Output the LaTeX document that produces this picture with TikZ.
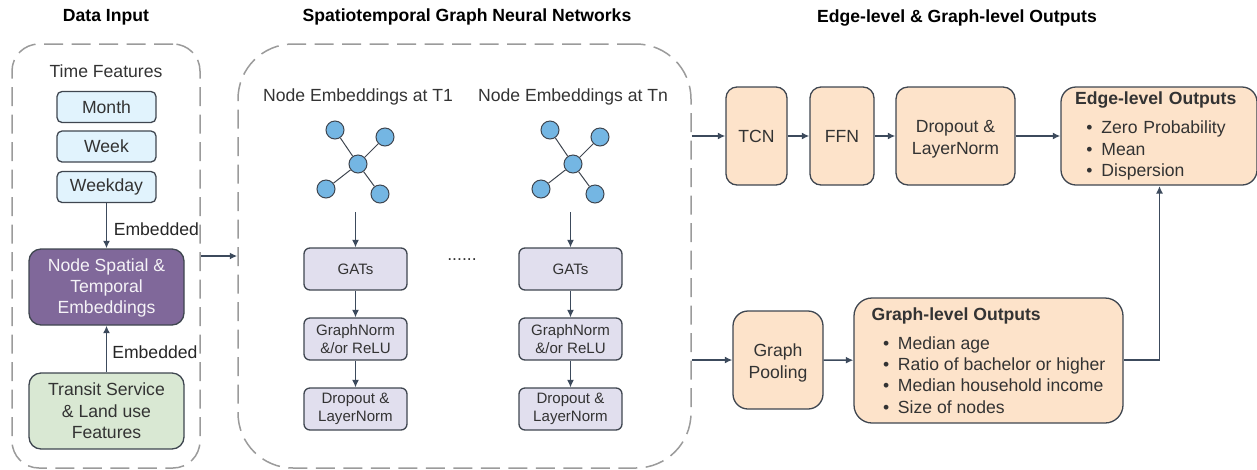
\documentclass[tikz,border=0pt]{standalone}
\usepackage{fontspec}
\setmainfont{Liberation Sans}
\usetikzlibrary{arrows.meta}
\definecolor{inkdark}{HTML}{333333}
\definecolor{edgedark}{HTML}{3F4650}
\definecolor{arrowdark}{HTML}{3C4A5C}
\definecolor{dashgray}{HTML}{9B9B9B}
\definecolor{timeblue}{HTML}{E1F3FD}
\definecolor{embedpurple}{HTML}{80689A}
\definecolor{transitgreen}{HTML}{D9E8D3}
\definecolor{gnnlilac}{HTML}{E1DFEE}
\definecolor{outpeach}{HTML}{FDE3CA}
\definecolor{dotblue}{HTML}{74B6E3}
\newcommand{\px}{0.75pt}
\newcommand{\bigtext}{\fontsize{13.2pt}{16.1pt}\selectfont}
\newcommand{\smalltext}{\fontsize{11.3pt}{13.8pt}\selectfont}
\newcommand{\bulitem}[1]{\hspace*{8.6pt}\makebox[11.2pt][l]{\textbullet}#1}

\begin{document}
\begin{tikzpicture}[x=0.75pt,y=-0.75pt,
    heading/.style={font=\bigtext\bfseries,text=black,inner sep=0pt},
    plain/.style={font=\bigtext,text=inkdark,inner sep=0pt,align=center},
    frame/.style={draw=dashgray,line width=1.5*\px,dash pattern=on 19*\px off 8.5*\px},
    box/.style={draw=edgedark,line width=1.3*\px,font=\bigtext,text=inkdark,align=center,inner sep=0pt},
    timebox/.style={box,fill=timeblue,minimum width=99*\px,minimum height=31*\px,rounded corners=5*\px},
    bigbox/.style={box,minimum width=155*\px,minimum height=76*\px,rounded corners=12*\px},
    gnnbox/.style={box,fill=gnnlilac,font=\smalltext,minimum width=103*\px,minimum height=42*\px,rounded corners=6*\px},
    outbox/.style={box,fill=outpeach,rounded corners=11*\px},
    lowertext/.style={text height=30pt},
    dot/.style={circle,draw=edgedark,line width=1*\px,fill=dotblue,minimum size=18*\px,inner sep=0pt},
    flow/.style={draw=arrowdark,line width=1.6*\px,-{Latex[length=7.5*\px,width=7*\px]}},
    thinflow/.style={draw=arrowdark,line width=1.3*\px,-{Latex[length=7.5*\px,width=7*\px]}}]
  \useasboundingbox (0,0) rectangle (1257,469);

  % Headings
  \node[heading] (headinput) at (106,17) {Data Input};
  \node[heading] (headgnn) at (467,17) {Spatiotemporal Graph Neural Networks};
  \node[heading] (headout) at (957,18) {Edge-level \& Graph-level Outputs};

  % Dashed frames
  \node[frame,rounded corners=27*\px,minimum width=188*\px,minimum height=424*\px] (inputframe) at (106,256) {};
  \node[frame,rounded corners=55*\px,minimum width=453*\px,minimum height=424*\px] (gnnframe) at (464.5,256) {};

  % Data input
  \node[plain] (timefeat) at (106,71) {Time Features};
  \node[timebox] (month) at (106.5,107) {Month};
  \node[timebox] (week) at (106.5,146.5) {Week};
  \node[timebox] (weekday) at (106.5,187) {Weekday};
  \node[bigbox,fill=embedpurple,text=white!92!embedpurple,text height=43.2pt] (embed) at (106.5,287) {Node Spatial \&\\Temporal\\Embeddings};
  \node[bigbox,fill=transitgreen] (transit) at (106.5,411) {Transit Service\\\& Land use\\Features};
  \draw[flow] (weekday) -- (embed) node[plain,text=black!85,pos=0.55,anchor=west,xshift=6.5*\px,yshift=-1*\px] (embedlabelA) {Embedded};
  \draw[flow] (transit) -- (embed) node[plain,text=black!85,pos=0.44,anchor=west,xshift=5*\px] (embedlabelB) {Embedded};
  \draw[flow] (inputframe) -- (gnnframe);

  % One column for each time step
  \foreach \tname/\gx/\tlabel in {one/358/T1,n/573/Tn} {
    \node[plain] (title\tname) at (\gx,97) {Node Embeddings at \tlabel};
    \node[dot] (hub\tname) at (\gx,164) {};
    \node[dot] (nw\tname) at ({\gx-23},130) {};
    \node[dot] (ne\tname) at ({\gx+27},137) {};
    \node[dot] (sw\tname) at ({\gx-32},189) {};
    \node[dot] (se\tname) at ({\gx+22},194) {};
    \foreach \spoke in {nw,ne,sw,se}
      \draw[draw=edgedark,line width=1*\px] (hub\tname) -- (\spoke\tname);
    \coordinate (graphend\tname) at ({\gx-2.5},212);
    \node[gnnbox] (gats\tname) at ({\gx-2.5},269) {GATs};
    \node[gnnbox] (norm\tname) at ({\gx-2.5},339) {GraphNorm\\\&/or ReLU};
    \node[gnnbox] (drop\tname) at ({\gx-2.5},409) {Dropout \&\\LayerNorm};
    \draw[thinflow] (graphend\tname) -- (gats\tname);
    \draw[thinflow] (gats\tname) -- (norm\tname);
    \draw[thinflow] (norm\tname) -- (drop\tname);
  }
  \node[font=\bigtext,text=inkdark,inner sep=0pt] (moredots) at (462,260) {......};

  % Edge-level branch
  \node[outbox,minimum width=61*\px,minimum height=98*\px] (tcn) at (756.5,136) {TCN};
  \node[outbox,minimum width=64*\px,minimum height=98*\px] (ffn) at (842,136) {FFN};
  \node[outbox,lowertext,minimum width=119*\px,minimum height=98*\px,rounded corners=12*\px] (dropedge) at (955.5,136) {Dropout \&\\LayerNorm};
  \node[outbox,align=left,rounded corners=15*\px,minimum width=196*\px,minimum height=98*\px,text width=168*\px,inner xsep=14*\px] (edgeout) at (1159,136)
    {\textbf{Edge-level Outputs}\\[5.6pt]\bulitem{Zero Probability}\\\bulitem{Mean}\\\bulitem{Dispersion}};
  \draw[flow] (gnnframe.east |- tcn.west) -- (tcn);
  \draw[flow] (tcn) -- (ffn);
  \draw[flow] (ffn) -- (dropedge);
  \draw[flow] (dropedge) -- (edgeout.west);

  % Graph-level branch
  \node[outbox,lowertext,rounded corners=15*\px,minimum width=90*\px,minimum height=98*\px] (pooling) at (778,360) {Graph\\Pooling};
  \node[outbox,align=left,rounded corners=18*\px,minimum width=269*\px,minimum height=125*\px] (graphout) at (988.5,360.5)
    {\textbf{Graph-level Outputs}\\[5.6pt]\bulitem{Median age}\\\bulitem{Ratio of bachelor or higher}\\\bulitem{Median household income}\\\bulitem{Size of nodes}};
  \coordinate (graphturn) at (1159.5,186);
  \draw[flow] (gnnframe.east |- pooling.west) -- (pooling);
  \draw[flow] (pooling) -- (graphout);
  \draw[flow] (graphout.east |- pooling.east) -| (graphturn);
\end{tikzpicture}
\end{document}
